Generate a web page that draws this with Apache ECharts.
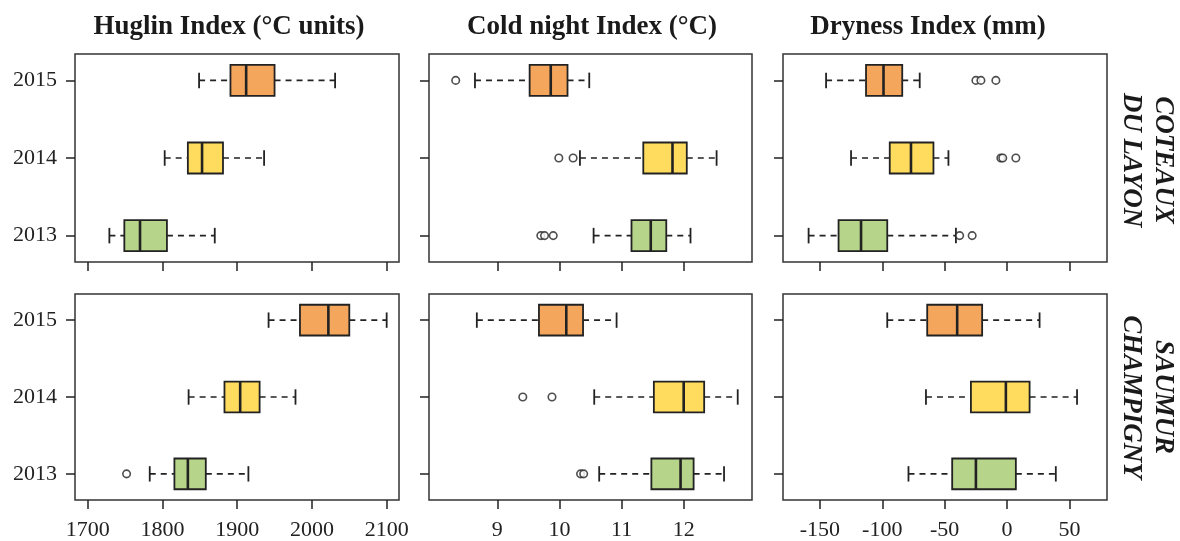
<!DOCTYPE html>
<html>
<head>
<meta charset="utf-8">
<script src="https://cdn.jsdelivr.net/npm/echarts@6/dist/echarts.min.js"></script>
<style>html,body{margin:0;padding:0;background:#fff;}#c{width:1180px;height:541px;}</style>
</head>
<body>
<div id="c"></div>
<script>
// ---- Data ----
const years = ['2013', '2014', '2015'];
const indexTitles = ['Huglin Index (°C units)', 'Cold night Index (°C)', 'Dryness Index (mm)'];
const regions = ['COTEAUX\nDU LAYON', 'SAUMUR\nCHAMPIGNY'];
// stats per year (2013, 2014, 2015): [lower whisker, Q1, median, Q3, upper whisker]
const huglinCDL = [[1729, 1749, 1770, 1806, 1870], [1803, 1834, 1853, 1881, 1936], [1849, 1891, 1912, 1950, 2031]];
const huglinSC  = [[1783, 1816, 1834, 1858, 1915], [1835, 1883, 1904, 1930, 1978], [1942, 1984, 2022, 2050, 2100]];
const coldCDL   = [[10.55, 11.16, 11.47, 11.72, 12.11], [10.33, 11.35, 11.82, 12.05, 12.53], [8.64, 9.52, 9.86, 10.13, 10.48]];
const coldSC    = [[10.64, 11.48, 11.95, 12.16, 12.65], [10.56, 11.52, 12.00, 12.33, 12.87], [8.67, 9.67, 10.11, 10.38, 10.92]];
const dryCDL    = [[-159, -135, -117, -96, -41], [-125, -94, -77, -59, -47], [-145, -113, -99, -84, -70]];
const drySC     = [[-79, -44, -25, 7, 39], [-65, -29, -1, 18, 56], [-96, -64, -40, -20, 26]];
// outliers per year (2013, 2014, 2015)
const huglinCDLOut = [[], [], []];
const huglinSCOut  = [[1752], [], []];
const coldCDLOut   = [[9.70, 9.76, 9.90], [9.99, 10.22], [8.33]];
const coldSCOut    = [[10.34, 10.39], [9.41, 9.88], []];
const dryCDLOut    = [[-38, -28], [-5, -3.5, 7], [-25, -21, -9]];
const drySCOut     = [[], [], []];
// x-axis tick values per index
const huglinTicks = [1700, 1800, 1900, 2000, 2100];
const coldTicks = [9, 10, 11, 12];
const dryTicks = [-150, -100, -50, 0, 50];
const yearPositions = [1, 2, 3];

// ---- Layout / style ----
const colors = ['#b6d48a', '#ffdc5e', '#f4a65c'];
const ink = '#222';
const font = 'Liberation Serif';
const colLeft = [75, 429, 783];
const colWidth = [324, 323, 324];
const rowTop = [54, 294];
const rowHeight = 208;
const xRanges = [[1683, 2116.5], [7.9, 13.1], [-179.5, 80]];
const ticksByCol = [huglinTicks, coldTicks, dryTicks];
const panels = [
  [huglinCDL, coldCDL, dryCDL],
  [huglinSC, coldSC, drySC]
];
const outliers = [
  [huglinCDLOut, coldCDLOut, dryCDLOut],
  [huglinSCOut, coldSCOut, drySCOut]
];
const halfBox = 0.2, halfCap = 0.1;

const grid = [], xAxis = [], yAxis = [], series = [];
let idx = 0;
for (let r = 0; r < 2; r++) {
  for (let c = 0; c < 3; c++) {
    grid.push({left: colLeft[c], top: rowTop[r], width: colWidth[c], height: rowHeight,
      show: true, borderColor: '#333', borderWidth: 1.5, backgroundColor: 'transparent'});
    xAxis.push({type: 'value', gridIndex: idx, min: xRanges[c][0], max: xRanges[c][1], position: 'bottom',
      axisLine: {show: false, onZero: false}, splitLine: {show: false},
      axisTick: {show: true, length: 9, customValues: ticksByCol[c], lineStyle: {color: ink, width: 1.5}},
      axisLabel: {show: r === 1, customValues: ticksByCol[c], margin: 19, color: ink,
        fontFamily: font, fontSize: 22, formatter: v => String(v)}});
    yAxis.push({type: 'value', gridIndex: idx, min: 0.66, max: 3.34, position: 'left',
      axisLine: {show: false, onZero: false}, splitLine: {show: false},
      axisTick: {show: true, length: 9, customValues: yearPositions, lineStyle: {color: ink, width: 1.5}},
      axisLabel: {show: c === 0, customValues: yearPositions, margin: 18, color: ink,
        fontFamily: font, fontSize: 22, formatter: v => years[Math.round(v) - 1]}});
    const stats = panels[r][c];
    series.push({
      type: 'custom', xAxisIndex: idx, yAxisIndex: idx,
      encode: {x: [1, 2, 3, 4, 5], y: 0},
      data: stats.map((s, i) => [yearPositions[i]].concat(s)),
      renderItem: function (params, api) {
        const y = api.value(0);
        const lo = api.value(1), q1 = api.value(2), md = api.value(3), q3 = api.value(4), hi = api.value(5);
        const yi = params.dataIndex;
        const pLo = api.coord([lo, y]), pQ1 = api.coord([q1, y]), pMd = api.coord([md, y]);
        const pQ3 = api.coord([q3, y]), pHi = api.coord([hi, y]);
        const bTop = api.coord([q1, y + halfBox])[1], bBot = api.coord([q1, y - halfBox])[1];
        const cTop = api.coord([q1, y + halfCap])[1], cBot = api.coord([q1, y - halfCap])[1];
        const dash = {stroke: ink, lineWidth: 1.6, lineDash: [6, 5]};
        const solid = {stroke: ink, lineWidth: 1.8};
        return {type: 'group', children: [
          {type: 'line', shape: {x1: pLo[0], y1: pLo[1], x2: pQ1[0], y2: pQ1[1]}, style: dash},
          {type: 'line', shape: {x1: pQ3[0], y1: pQ3[1], x2: pHi[0], y2: pHi[1]}, style: dash},
          {type: 'line', shape: {x1: pLo[0], y1: cTop, x2: pLo[0], y2: cBot}, style: solid},
          {type: 'line', shape: {x1: pHi[0], y1: cTop, x2: pHi[0], y2: cBot}, style: solid},
          {type: 'rect', shape: {x: pQ1[0], y: bTop, width: pQ3[0] - pQ1[0], height: bBot - bTop},
            style: {fill: colors[yi], stroke: ink, lineWidth: 1.8}},
          {type: 'line', shape: {x1: pMd[0], y1: bTop, x2: pMd[0], y2: bBot}, style: {stroke: ink, lineWidth: 2.6}}
        ]};
      }
    });
    const pts = [];
    outliers[r][c].forEach((arr, i) => arr.forEach(v => pts.push([v, yearPositions[i]])));
    series.push({type: 'scatter', xAxisIndex: idx, yAxisIndex: idx, data: pts,
      symbol: 'circle', symbolSize: 7.5, silent: true,
      itemStyle: {color: '#fff', borderColor: ink, borderWidth: 1.6}});
    idx++;
  }
}

const titleCenters = [229, 592, 928];
const graphic = [];
indexTitles.forEach((t, i) => graphic.push({type: 'text', x: titleCenters[i], y: 27.5,
  style: {text: t, font: 'bold 27px "Liberation Serif"', fill: '#1a1a1a', textAlign: 'center', textVerticalAlign: 'middle'}}));
const regionCenters = [160, 397];
regions.forEach((t, i) => graphic.push({type: 'text', x: 1147, y: regionCenters[i], rotation: -Math.PI / 2,
  style: {text: t, font: 'italic bold 27px "Liberation Serif"', fill: '#1a1a1a', textAlign: 'center',
    textVerticalAlign: 'middle', lineHeight: 32}}));

const chart = echarts.init(document.getElementById('c'), null, {renderer: 'canvas'});
chart.setOption({animation: false, backgroundColor: '#fff', grid, xAxis, yAxis, series, graphic});
</script>
</body>
</html>
